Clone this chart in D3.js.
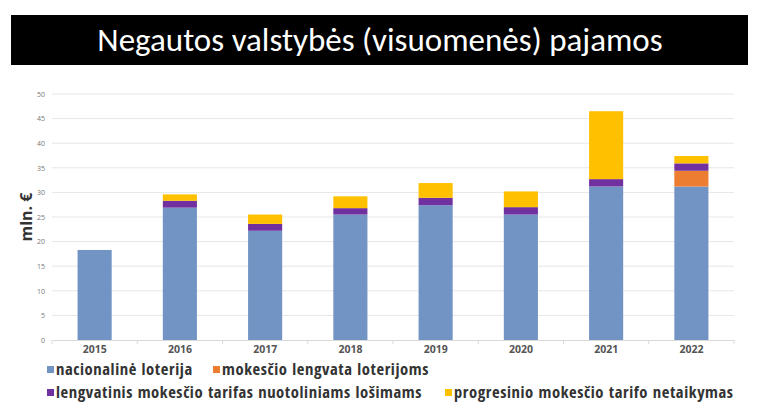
<!DOCTYPE html>
<html>
<head>
<meta charset="utf-8">
<script src="https://cdn.jsdelivr.net/npm/d3@7"></script>
<style>
  body { margin: 0; background: #fff; }
  svg { display: block; }
</style>
</head>
<body>
<div id="chart"></div>
<script>
var width = 768,
    height = 412;

// chart values (mln. EUR)
var years = ["2015", "2016", "2017", "2018", "2019", "2020", "2021", "2022"];
var nacionaline = [18.3, 26.9, 22.2, 25.5, 27.4, 25.5, 31.2, 31.2];
var lengvata = [0, 0, 0, 0, 0, 0, 0, 3.2];
var nuotoliniai = [0, 1.4, 1.4, 1.3, 1.5, 1.5, 1.5, 1.5];
var progresinis = [0, 1.3, 1.9, 2.4, 3.0, 3.2, 13.8, 1.5];
var yTicks = [0, 5, 10, 15, 20, 25, 30, 35, 40, 45, 50];

var seriesNames = ["nacionalinė loterija", "mokesčio lengvata loterijoms",
    "lengvatinis mokesčio tarifas nuotoliniams lošimams", "progresinio mokesčio tarifo netaikymas"];
var color = ["#7294c4", "#ed7d31", "#7030a0", "#ffc000"];

var rows = years.map(function (y, i) {
    return { year: y, s0: nacionaline[i], s1: lengvata[i], s2: nuotoliniai[i], s3: progresinis[i] };
});

var svg = d3.select("#chart").append("svg")
    .attr("width", width)
    .attr("height", height);

// title band
svg.append("rect")
    .attr("x", 11)
    .attr("y", 15)
    .attr("width", 737)
    .attr("height", 50)
    .attr("fill", "#000");

svg.append("text")
    .attr("x", 380)
    .attr("y", 51)
    .attr("text-anchor", "middle")
    .attr("fill", "#fff")
    .style("font", "400 33px Carlito, 'Open Sans', sans-serif")
    .text("Negautos valstybės (visuomenės) pajamos");

var margin = { top: 94, right: 34, bottom: 72, left: 52 };

var x = d3.scaleBand()
    .domain(years)
    .range([margin.left, width - margin.right])
    .paddingInner(0.6)
    .paddingOuter(0.3);

var y = d3.scaleLinear()
    .domain([0, 50])
    .range([height - margin.bottom, margin.top]);

// grid
svg.append("g")
    .selectAll("line")
    .data(yTicks.slice(1))
    .enter().append("line")
    .attr("x1", margin.left)
    .attr("x2", width - margin.right)
    .attr("y1", function (d) { return y(d); })
    .attr("y2", function (d) { return y(d); })
    .attr("stroke", "#e6e6e6")
    .attr("stroke-width", 1);

// y axis labels
var yAxis = svg.append("g")
    .attr("transform", "translate(" + (margin.left - 7) + ",0)")
    .call(d3.axisLeft(y).tickValues(yTicks).tickSize(0).tickPadding(0));
yAxis.select(".domain").remove();
yAxis.selectAll("text")
    .attr("fill", "#777")
    .style("font", "7px 'Open Sans', sans-serif");

svg.append("text")
    .attr("transform", "translate(32,217) rotate(-90)")
    .attr("text-anchor", "middle")
    .attr("fill", "#333")
    .style("font", "bold 16px 'Open Sans', sans-serif")
    .text("mln. €");

// stacked bars
var stack = d3.stack().keys(["s0", "s1", "s2", "s3"]);
var layers = stack(rows);

svg.append("g")
    .selectAll("g")
    .data(layers)
    .enter().append("g")
    .attr("fill", function (d, i) { return color[i]; })
    .selectAll("rect")
    .data(function (d) { return d; })
    .enter().append("rect")
    .attr("x", function (d) { return x(d.data.year); })
    .attr("y", function (d) { return y(d[1]); })
    .attr("width", x.bandwidth())
    .attr("height", function (d) { return y(d[0]) - y(d[1]); });

// x axis
var xAxis = svg.append("g")
    .attr("transform", "translate(0," + y(0) + ")")
    .call(d3.axisBottom(x).tickSize(0).tickPadding(6));
xAxis.select(".domain").attr("stroke", "#d9d9d9");
xAxis.selectAll("text")
    .attr("fill", "#555")
    .style("font", "bold 10.5px 'Open Sans', sans-serif");

// small ticks between categories
svg.append("g")
    .selectAll("line")
    .data(years.concat(["end"]))
    .enter().append("line")
    .attr("x1", function (d, i) { return margin.left + i * x.step(); })
    .attr("x2", function (d, i) { return margin.left + i * x.step(); })
    .attr("y1", y(0))
    .attr("y2", y(0) + 4)
    .attr("stroke", "#d9d9d9");

// legend (y = text baseline)
var legendItems = [
    { x: 47, y: 375 },
    { x: 213, y: 375 },
    { x: 47, y: 398 },
    { x: 445, y: 398 }
];

function legend(item, text, c) {
    svg.append("rect")
        .attr("x", item.x)
        .attr("y", item.y - 9)
        .attr("width", 7)
        .attr("height", 7)
        .attr("fill", c);
    svg.append("text")
        .attr("x", item.x + 9)
        .attr("y", item.y)
        .attr("fill", "#333")
        .style("letter-spacing", "0.6px")
        .style("font", "bold 16.5px 'Open Sans Condensed', 'Open Sans', sans-serif")
        .text(text);
}

seriesNames.forEach(function (n, i) {
    legend(legendItems[i], n, color[i]);
});
</script>
</body>
</html>
